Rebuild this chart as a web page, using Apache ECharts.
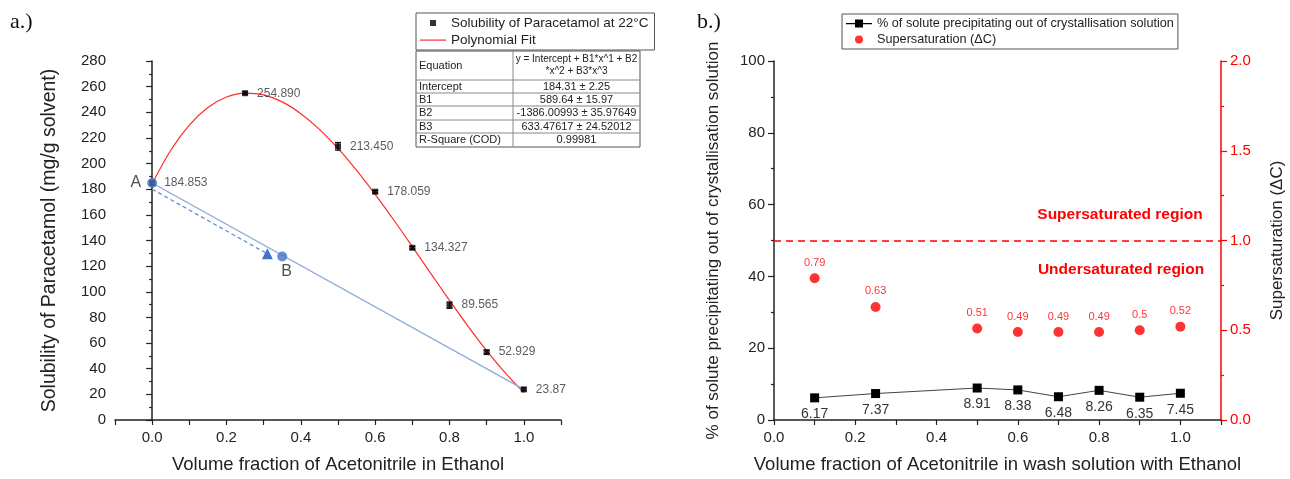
<!DOCTYPE html>
<html>
<head>
<meta charset="utf-8">
<script src="https://cdn.jsdelivr.net/npm/echarts@6/dist/echarts.min.js"></script>
<style>
  html, body { margin: 0; padding: 0; background: #fff; }
  #main { width: 1290px; height: 479px; }
</style>
</head>
<body>
<div id="main"></div>
<script>
// ---- a.) solubility data ----
var solX = [0, 0.25, 0.5, 0.6, 0.7, 0.8, 0.9, 1.0];
var solY = [184.853, 254.890, 213.450, 178.059, 134.327, 89.565, 52.929, 23.87];
var solLabels = ['184.853', '254.890', '213.450', '178.059', '134.327', '89.565', '52.929', '23.87'];
var solErr = [1, 1, 3, 1, 1, 2.5, 1.5, 1];
// points
var fitX = [0, 0.05, 0.1, 0.15, 0.2, 0.25, 0.3, 0.35, 0.4, 0.45, 0.5, 0.55, 0.6, 0.65, 0.7, 0.75, 0.8, 0.85, 0.9, 0.95, 1.0];
var fitY = [184.3, 210.4, 230.0, 243.7, 251.9, 255.0, 253.6, 248.1, 238.9, 226.7, 211.8, 194.7, 176.0, 156.0, 135.2, 114.2, 93.3, 73.1, 54.1, 36.7, 21.4];
// blue construction lines
var pointA = [0, 184.853];
var pointB = [0.35, 127.5];
var solidEnd = [1.0, 23.87];
var dashedStart = [0, 180];
var dashedEnd = [0.31, 129.6];
// fit table
var tableRows = [
  ['Intercept', '184.31 \u00b1 2.25'],
  ['B1', '589.64 \u00b1 15.97'],
  ['B2', '-1386.00993 \u00b1 35.97649'],
  ['B3', '633.47617 \u00b1 24.52012'],
  ['R-Square (COD)', '0.99981']
];

// ---- b.) wash data ----
var washX = [0.1, 0.25, 0.5, 0.6, 0.7, 0.8, 0.9, 1.0];
var precip = [6.17, 7.37, 8.91, 8.38, 6.48, 8.26, 6.35, 7.45];
var superSat = [0.79, 0.63, 0.51, 0.49, 0.49, 0.49, 0.5, 0.52];

function pairs(xs, ys) {
  var out = [];
  for (var i = 0; i < xs.length; i++) out.push([xs[i], ys[i]]);
  return out;
}
function evenTenths(v) {
  var t = Math.round(v * 10);
  if (t < 0 || t > 10 || t % 2 !== 0) return '';
  return (t / 10).toFixed(1);
}

var FONT = 'Liberation Sans, Arial, sans-serif';
var AXIS = '#222';

// table graphic
var tbl = [];
var tx = 416, ty = 51, tw = 224, c1 = 97;
var rowH = [29, 13, 13, 14, 13, 14];
var th = 0;
for (var r = 0; r < rowH.length; r++) th += rowH[r];
tbl.push({ type: 'rect', shape: { x: tx, y: ty, width: tw, height: th }, style: { fill: '#fff', stroke: '#555', lineWidth: 1 } });
tbl.push({ type: 'line', shape: { x1: tx + c1, y1: ty, x2: tx + c1, y2: ty + th }, style: { stroke: '#888', lineWidth: 1 } });
var yy = ty;
for (var r = 0; r < rowH.length; r++) {
  var h = rowH[r];
  if (r > 0) tbl.push({ type: 'line', shape: { x1: tx, y1: yy, x2: tx + tw, y2: yy }, style: { stroke: '#888', lineWidth: 1 } });
  var left = r === 0 ? 'Equation' : tableRows[r - 1][0];
  var right = r === 0 ? 'y = Intercept + B1*x^1 + B2\n*x^2 + B3*x^3' : tableRows[r - 1][1];
  tbl.push({ type: 'text', x: tx + 3, y: yy + h / 2, style: { text: left, font: '11px ' + FONT, fill: '#222', verticalAlign: 'middle' } });
  tbl.push({ type: 'text', x: tx + c1 + (tw - c1) / 2, y: yy + h / 2, style: { text: right, font: (r === 0 ? '10px ' : '11px ') + FONT, fill: '#222', align: 'center', verticalAlign: 'middle', lineHeight: 12 } });
  yy += h;
}

var chart = echarts.init(document.getElementById('main'));
var option = {
  animation: false,
  backgroundColor: '#fff',
  textStyle: { fontFamily: FONT },
  grid: [
    { left: 115, right: 729, top: 61, bottom: 57 },
    { left: 774, right: 69, top: 61, bottom: 56 }
  ],
  legend: [
    {
      left: 416, top: 13, orient: 'vertical', itemWidth: 26, itemHeight: 12, itemGap: 3,
      padding: [3, 6, 3, 4], borderColor: '#555', borderWidth: 1,
      textStyle: { fontSize: 13.5, color: '#222' },
      data: [
        { name: 'Solubility of Paracetamol at 22\u00b0C', icon: 'path://M0,0M26,12M10,3h6v6h-6z' },
        { name: 'Polynomial Fit', icon: 'path://M0,0M26,12M0,5.5h26v1.2h-26z' }
      ]
    },
    {
      left: 842, top: 14, orient: 'vertical', itemWidth: 26, itemHeight: 12, itemGap: 3,
      padding: [3, 4, 3, 4], borderColor: '#555', borderWidth: 1,
      textStyle: { fontSize: 12.7, color: '#222' },
      data: [
        { name: '% of solute precipitating out of crystallisation solution', icon: 'path://M0,0M26,12M0,5.5h26v1.2h-26zM9,2h8v8h-8z' },
        { name: 'Supersaturation (\u0394C)', icon: 'path://M0,0M26,12M9,6a4,4 0 1,0 8,0a4,4 0 1,0 -8,0z' }
      ]
    }
  ],
  xAxis: [
    {
      gridIndex: 0, type: 'value', min: -0.1, max: 1.1, interval: 0.1,
      name: 'Volume fraction of Acetonitrile in Ethanol', nameLocation: 'middle', nameGap: 35,
      nameTextStyle: { fontSize: 18.5, color: AXIS },
      splitLine: { show: false },
      axisLine: { lineStyle: { color: AXIS, width: 1.5 } },
      axisTick: { length: 5, lineStyle: { color: AXIS, width: 1.2 } },
      axisLabel: { fontSize: 15, color: AXIS, margin: 10, formatter: evenTenths }
    },
    {
      gridIndex: 1, type: 'value', min: 0, max: 1.1, interval: 0.1,
      name: 'Volume fraction of Acetonitrile in wash solution with Ethanol', nameLocation: 'middle', nameGap: 35,
      nameTextStyle: { fontSize: 18.5, color: AXIS },
      splitLine: { show: false },
      axisLine: { lineStyle: { color: AXIS, width: 1.5 } },
      axisTick: { length: 5, lineStyle: { color: AXIS, width: 1.2 } },
      axisLabel: { fontSize: 15, color: AXIS, margin: 10, formatter: evenTenths }
    }
  ],
  yAxis: [
    {
      gridIndex: 0, type: 'value', min: 0, max: 280, interval: 20,
      name: 'Solubility of Paracetamol (mg/g solvent)', nameLocation: 'middle', nameGap: 55, nameRotate: 90,
      nameTextStyle: { fontSize: 19.5, color: AXIS },
      splitLine: { show: false },
      axisLine: { show: true, lineStyle: { color: AXIS, width: 1.5 } },
      axisTick: { show: true, length: 6, lineStyle: { color: AXIS, width: 1.2 } },
      minorTick: { show: true, splitNumber: 2, length: 3, lineStyle: { color: AXIS, width: 1.2 } },
      axisLabel: { fontSize: 15, color: AXIS, margin: 9 }
    },
    {
      gridIndex: 1, type: 'value', min: 0, max: 100, interval: 20, position: 'left',
      name: '% of solute precipitating out of crystallisation solution', nameLocation: 'middle', nameGap: 52, nameRotate: 90,
      nameTextStyle: { fontSize: 17, color: AXIS },
      splitLine: { show: false },
      axisLine: { show: true, lineStyle: { color: AXIS, width: 1.5 } },
      axisTick: { show: true, length: 6, lineStyle: { color: AXIS, width: 1.2 } },
      minorTick: { show: true, splitNumber: 2, length: 3, lineStyle: { color: AXIS, width: 1.2 } },
      axisLabel: { fontSize: 15, color: AXIS, margin: 9 }
    },
    {
      gridIndex: 1, type: 'value', min: 0, max: 2, interval: 0.5, position: 'right',
      name: 'Supersaturation (\u0394C)', nameLocation: 'middle', nameGap: 48, nameRotate: 90,
      nameTextStyle: { fontSize: 17, color: AXIS },
      splitLine: { show: false },
      axisLine: { show: true, lineStyle: { color: '#ff0000', width: 1.5 } },
      axisTick: { show: true, length: 6, lineStyle: { color: '#ff0000', width: 1.2 } },
      minorTick: { show: true, splitNumber: 2, length: 3, lineStyle: { color: '#ff0000', width: 1.2 } },
      axisLabel: { fontSize: 15, color: '#ff0000', margin: 9, formatter: function (v) { return v.toFixed(1); } }
    }
  ],
  graphic: [
    { type: 'text', left: 10, top: 11, style: { text: 'a.)', font: '22px Liberation Serif, serif', fill: '#111' } },
    { type: 'text', left: 697, top: 11, style: { text: 'b.)', font: '22px Liberation Serif, serif', fill: '#111' } },
    { type: 'group', children: tbl },
    { type: 'text', x: 1120, y: 215, style: { text: 'Supersaturated region', font: 'bold 15.5px ' + FONT, fill: '#ff0000', align: 'center', verticalAlign: 'middle' } },
    { type: 'text', x: 1121, y: 270, style: { text: 'Undersaturated region', font: 'bold 15.5px ' + FONT, fill: '#ff0000', align: 'center', verticalAlign: 'middle' } }
  ],
  series: [
    {
      name: 'Polynomial Fit', type: 'line', xAxisIndex: 0, yAxisIndex: 0,
      data: pairs(fitX, fitY), smooth: 0.3, symbol: 'none',
      color: '#ff2a2a', lineStyle: { color: '#ff2a2a', width: 1.2 }, z: 2
    },
    {
      name: 'line AB', type: 'line', xAxisIndex: 0, yAxisIndex: 0,
      data: [pointA, solidEnd], symbol: 'none',
      lineStyle: { color: '#8eaadb', width: 1.3 }, z: 2
    },
    {
      name: 'direction', type: 'line', xAxisIndex: 0, yAxisIndex: 0,
      data: [{ value: dashedStart, symbol: 'none' }, { value: dashedEnd, symbol: 'triangle', symbolSize: 11 }],
      itemStyle: { color: '#4472c4' },
      lineStyle: { color: '#5b85d0', width: 1.2, type: [4, 3] }, z: 3
    },
    {
      name: 'error', type: 'custom', xAxisIndex: 0, yAxisIndex: 0,
      data: solX.map(function (x, i) { return [x, solY[i] - solErr[i], solY[i] + solErr[i]]; }),
      renderItem: function (params, api) {
        var lo = api.coord([api.value(0), api.value(1)]);
        var hi = api.coord([api.value(0), api.value(2)]);
        var w = 3;
        var st = { stroke: '#111', lineWidth: 1.2 };
        return {
          type: 'group', children: [
            { type: 'line', shape: { x1: lo[0], y1: lo[1], x2: hi[0], y2: hi[1] }, style: st },
            { type: 'line', shape: { x1: lo[0] - w, y1: lo[1], x2: lo[0] + w, y2: lo[1] }, style: st },
            { type: 'line', shape: { x1: hi[0] - w, y1: hi[1], x2: hi[0] + w, y2: hi[1] }, style: st }
          ]
        };
      },
      z: 4
    },
    {
      name: 'Solubility of Paracetamol at 22\u00b0C', type: 'scatter', xAxisIndex: 0, yAxisIndex: 0,
      data: pairs(solX, solY), symbol: 'rect', symbolSize: 6,
      itemStyle: { color: '#000' },
      label: {
        show: true, position: 'right', distance: 9, fontSize: 12, color: '#333',
        formatter: function (p) { return solLabels[p.dataIndex]; }
      },
      z: 5
    },
    {
      name: 'points AB', type: 'scatter', xAxisIndex: 0, yAxisIndex: 0,
      data: [
        { value: pointA, label: { show: true, formatter: 'A', position: 'left', distance: 6, fontSize: 16, color: '#222' } },
        { value: pointB, label: { show: true, formatter: 'B', position: [4, 12], fontSize: 16, color: '#222' } }
      ],
      symbol: 'circle', symbolSize: 10, itemStyle: { color: '#4472c4' }, z: 6
    },
    {
      name: '% of solute precipitating out of crystallisation solution', type: 'line', xAxisIndex: 1, yAxisIndex: 1,
      data: pairs(washX, precip), symbol: 'rect', symbolSize: 9,
      itemStyle: { color: '#000' }, lineStyle: { color: '#444', width: 1 },
      label: { show: true, position: 'bottom', distance: 5, fontSize: 14, color: '#333' },
      z: 5
    },
    {
      name: 'Supersaturation (\u0394C)', type: 'scatter', xAxisIndex: 1, yAxisIndex: 2,
      data: pairs(washX, superSat), symbol: 'circle', symbolSize: 10,
      itemStyle: { color: '#ff0000' },
      label: { show: true, position: 'top', distance: 5, fontSize: 11, color: '#ff0000' },
      markLine: {
        silent: true, symbol: 'none', label: { show: false },
        lineStyle: { color: '#ff0000', width: 1.5, type: [7, 5] },
        data: [{ yAxis: 1.0 }]
      },
      z: 5
    }
  ]
};
chart.setOption(option);
window.onresize = chart.resize;
</script>
</body>
</html>
